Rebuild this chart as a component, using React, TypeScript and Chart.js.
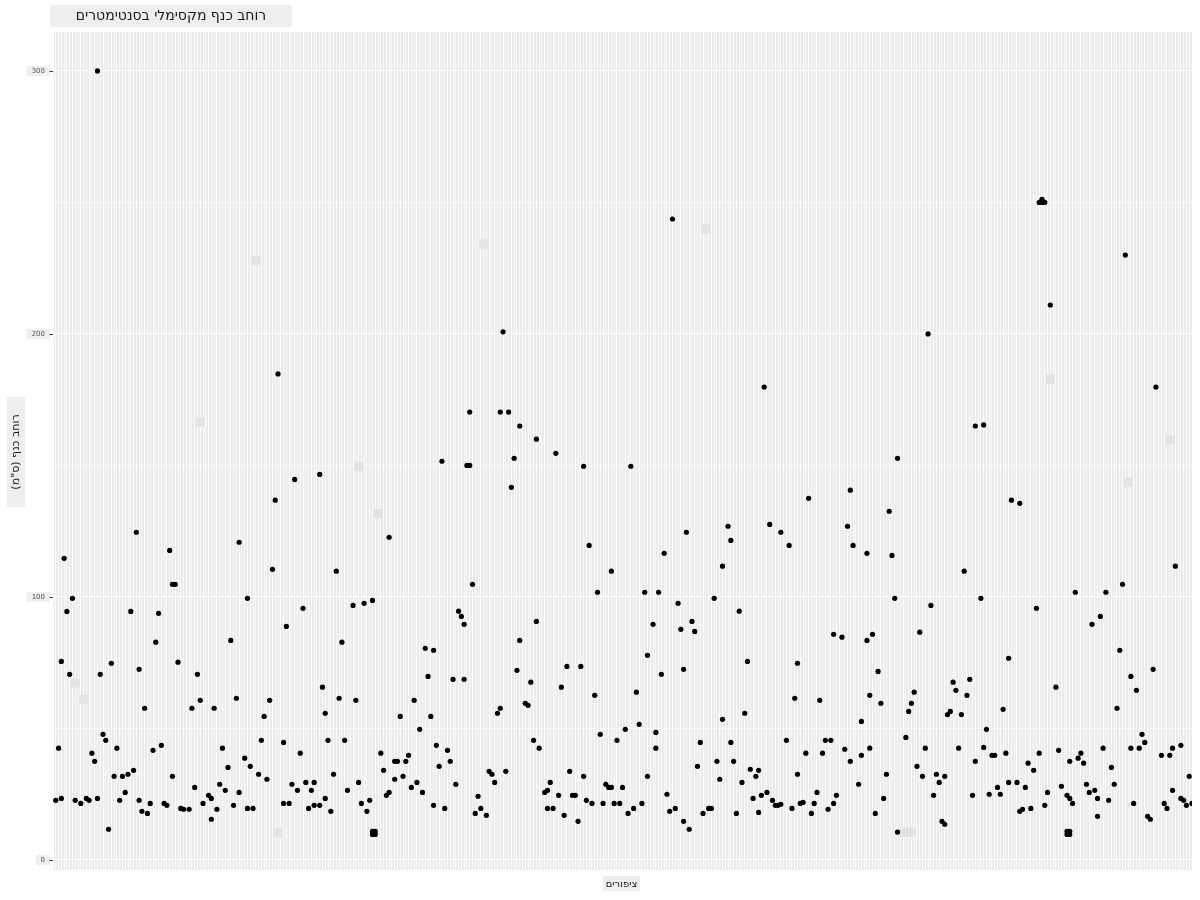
import { useEffect, useRef } from "react";
import { Chart, registerables } from "chart.js";

Chart.register(...registerables);

// ---- Data (bird index on the discrete x axis, max wingspan in cm) ----
const birdIndex = [
  1, 2, 3, 3, 4, 5, 6, 7, 8, 10,
  12, 13, 14, 15, 16, 16, 17, 18, 19, 20,
  21, 22, 23, 24, 25, 26, 27, 28, 29, 30,
  31, 31, 32, 33, 34, 35, 36, 37, 38, 39,
  40, 41, 42, 43, 43, 44, 45, 46, 47, 49,
  50, 51, 52, 53, 54, 56, 57, 57, 58, 59,
  60, 61, 62, 63, 64, 65, 66, 67, 67, 69,
  70, 70, 71, 72, 74, 75, 76, 77, 78, 79,
  80, 81, 83, 83, 84, 85, 86, 87, 88, 89,
  90, 91, 92, 93, 94, 94, 96, 97, 98, 98,
  99, 100, 101, 102, 103, 104,
  96, 105, 106, 108, 109, 110, 111, 112, 113, 114,
  115, 115, 116, 115, 116, 118, 119, 120, 121, 121,
  123, 124, 123, 125, 126, 127, 128, 129, 130, 131,
  132, 133, 134, 135, 136, 137, 137, 138, 139, 140,
  141, 142, 143, 144, 145, 146, 147, 148, 148, 149,
  150, 150, 151, 152, 153, 154, 156, 157, 158, 159,
  160, 161, 161, 162, 163, 164, 165, 166, 167, 168,
  168, 170, 171, 172, 173, 174, 174, 175, 177, 178,
  178, 179, 180, 181, 182, 183, 184, 185, 186, 187,
  188, 189, 190, 191, 191, 192, 193, 194, 195, 196,
  197, 198, 199, 200, 201, 201, 202, 203, 204, 205,
  206,
  207, 208, 209, 210, 211, 212, 213, 214, 214, 216,
  217, 217, 218, 219, 220, 221, 222, 223, 224, 225,
  226, 227, 227, 228, 229, 230, 231, 232, 233, 234,
  236, 237, 238, 239, 240, 241, 241, 243, 244, 244,
  245, 246, 247, 248, 249, 250, 251, 252, 253, 254,
  254, 255, 256, 257, 258, 259, 260, 261, 262, 262,
  264, 265, 266, 267, 268, 268, 269, 270, 271, 272,
  273, 274, 275, 276, 277, 278, 279, 280, 281, 281,
  282, 284, 285, 286, 287, 287, 288, 290, 291, 291,
  293, 293, 294, 294, 295, 296, 297, 298, 299, 300,
  301, 302, 303, 304, 304, 307,
  308, 309, 310, 311, 312, 313, 314, 315, 316, 317,
  318, 319, 320, 321, 321, 322, 323, 324, 325, 326,
  327, 328, 329, 330, 331, 332, 332, 334, 335, 335,
  336, 337, 338, 339, 340, 341, 342, 343, 344, 344,
  345, 347, 348, 348, 349, 350, 351, 352, 353, 354,
  355, 355, 356, 357, 356, 357, 358, 359, 361, 362,
  363, 365, 365, 366, 365, 366, 366, 366, 367, 368,
  369, 370, 371, 372, 373, 374, 375, 376, 376, 377,
  378, 379, 380, 381, 382, 383, 384, 385, 386, 388,
  388, 389, 390, 391, 392, 393, 394, 395, 396, 397,
  399, 400, 401, 402, 403, 403, 404, 406, 406, 407,
  408, 409, 410,
];

const maxWingspan = [
  22.7, 42.5, 75.5, 23.4, 114.7, 94.5, 70.6, 99.5, 22.7, 21.5,
  23.4, 22.7, 40.6, 37.5, 23.4, 300, 70.6, 47.8, 45.5, 11.7,
  74.8, 31.8, 42.5, 22.7, 31.8, 25.7, 32.6, 94.5, 34.1, 124.6,
  72.5, 22.7, 18.5, 57.7, 17.7, 21.5, 41.7, 82.8, 93.8, 43.6,
  21.5, 20.8, 117.7, 31.8, 104.8, 104.8, 75.2, 19.6, 19.3, 19.3,
  57.7, 27.6, 70.6, 60.7, 21.5, 24.6, 23.4, 15.5, 57.7, 19.3,
  28.8, 42.5, 26.5, 35.2, 83.5, 20.8, 61.5, 120.8, 25.7, 38.7,
  99.5, 19.6, 35.6, 19.6, 32.6, 45.5, 54.6, 30.7, 60.7, 110.5,
  136.8, 184.8, 44.7, 21.5, 88.8, 21.5, 28.8, 144.7, 26.5, 40.6,
  95.7, 29.5, 19.6, 26.5, 29.5, 20.8, 20.8, 65.7, 55.8, 23.4,
  45.5, 18.5, 32.6, 109.8, 61.5, 82.8,
  146.6, 45.5, 26.5, 96.8, 60.7, 29.5, 21.5, 97.6, 18.5, 22.7,
  98.7, 9.7, 9.7, 10.9, 10.9, 40.6, 34.1, 24.6, 122.7, 25.7,
  37.5, 37.5, 30.7, 54.6, 31.8, 37.5, 39.8, 27.6, 60.7, 29.5,
  49.7, 25.7, 80.5, 69.8, 54.6, 79.7, 20.8, 43.6, 35.6, 151.6,
  19.6, 41.7, 37.5, 68.7, 28.8, 94.6, 92.6, 89.6, 68.7, 150,
  150, 170.3, 104.8, 17.7, 24.2, 19.6, 17.0, 33.7, 32.6, 29.5,
  55.8, 57.7, 170.3, 200.8, 33.7, 170.3, 141.7, 152.7, 72.1, 83.5,
  165, 59.6, 58.8, 67.6, 45.5, 90.7, 160, 42.5, 25.7, 26.5,
  19.6, 29.5, 19.6, 154.6, 24.6, 65.7, 17.0, 73.6, 33.7, 24.6,
  24.6, 14.7, 73.6, 149.7, 31.8, 22.7, 119.6, 21.5, 62.6, 101.8,
  47.8, 21.5, 28.8, 27.6, 27.6, 109.8, 21.5, 45.5, 21.5, 27.6,
  49.7,
  17.7, 149.7, 19.6, 63.8, 51.6, 21.5, 101.8, 77.8, 31.8, 89.6,
  48.5, 42.5, 101.8, 70.6, 116.6, 25.0, 18.5, 243.7, 19.6, 97.6,
  87.7, 72.5, 14.7, 124.6, 11.7, 90.7, 86.9, 35.6, 44.7, 17.7,
  19.6, 19.6, 99.5, 37.5, 30.7, 111.7, 53.5, 126.9, 121.5, 44.7,
  37.5, 17.7, 94.6, 29.5, 55.8, 75.5, 34.5, 23.4, 31.8, 34.1,
  18.1, 24.6, 179.8, 25.7, 127.6, 22.7, 20.8, 20.8, 124.6, 21.2,
  45.5, 119.6, 19.6, 61.5, 74.8, 32.6, 21.5, 21.9, 40.6, 137.5,
  17.7, 21.5, 25.7, 60.7, 40.6, 45.5, 19.3, 45.5, 85.8, 21.5,
  24.6, 84.7, 42.1, 126.9, 140.6, 37.5, 119.6, 28.8, 52.7, 39.8,
  83.5, 116.6, 62.6, 42.5, 85.8, 17.7, 71.7, 59.6, 23.4, 32.6,
  132.6, 115.8, 99.5, 152.7, 10.6, 46.6,
  56.5, 59.6, 63.8, 35.6, 86.6, 31.8, 42.5, 200, 96.8, 24.6,
  32.6, 29.5, 14.7, 31.8, 13.6, 55.3, 56.5, 67.6, 64.5, 42.5,
  55.3, 109.8, 62.6, 68.7, 24.6, 37.5, 165, 99.5, 42.8, 165.4,
  49.7, 25.0, 39.8, 39.8, 27.6, 25.0, 57.3, 40.6, 76.7, 29.5,
  136.8, 29.5, 135.6, 18.5, 19.3, 27.6, 36.8, 19.6, 34.1, 95.7,
  40.6, 250, 250, 250, 251.2, 20.8, 25.7, 211, 65.7, 41.7,
  28.0, 24.6, 9.7, 9.7, 10.9, 10.9, 37.5, 23.4, 21.5, 101.8,
  38.7, 40.6, 36.8, 28.8, 25.7, 89.6, 26.5, 23.4, 16.6, 92.6,
  42.5, 101.8, 22.7, 35.2, 28.8, 57.7, 79.7, 104.8, 230, 69.8,
  42.5, 21.5, 64.5, 42.5, 47.8, 44.7, 16.6, 15.5, 72.5, 179.8,
  39.8, 21.5, 19.6, 39.8, 42.5, 26.5, 111.7, 43.6, 23.4, 22.7,
  20.8, 31.8, 21.5,
];

// light grey label boxes (text labels that render as blank boxes)
const labelIndex = [8, 11, 53, 73, 81, 110, 117, 155, 235, 306, 309, 359, 387, 402];
const labelWingspan = [67.3, 61.1, 166.5, 228, 10.4, 149.7, 131.7, 234.2, 239.9, 10.6, 10.6, 182.9, 143.5, 159.7];

const birdCount = 410;
const yTickValues = [0, 100, 200, 300];

const chartTitle = "רוחב כנף מקסימלי בסנטימטרים";
const yAxisTitle = 'רוחב כנף (ס"מ)';
const xAxisTitle = "ציפורים";

const FONT = "'DejaVu Sans', sans-serif";

const decorPlugin = {
  id: "decor",
  beforeDraw(chart: any) {
    const { ctx, chartArea: a } = chart;
    ctx.save();
    ctx.fillStyle = "#EBEBEB";
    ctx.fillRect(a.left, a.top, a.right - a.left, a.bottom - a.top);
    ctx.restore();
  },
  afterDraw(chart: any) {
    const { ctx, chartArea: a } = chart;
    const yScale = chart.scales.y;
    ctx.save();

    // y tick labels with backdrops and tick marks
    ctx.font = `7px ${FONT}`;
    ctx.textBaseline = "middle";
    for (const v of yTickValues) {
      const py = yScale.getPixelForValue(v);
      const text = String(v);
      const w = ctx.measureText(text).width;
      const right = a.left - 3;
      ctx.fillStyle = "#EFEFEF";
      ctx.fillRect(right - w - 10, py - 5, w + 10, 10);
      ctx.fillStyle = "#555555";
      ctx.textAlign = "right";
      ctx.fillText(text, right - 5, py + 0.5);
      ctx.strokeStyle = "#333333";
      ctx.lineWidth = 1;
      ctx.beginPath();
      ctx.moveTo(a.left - 3.5, Math.round(py) + 0.5);
      ctx.lineTo(a.left, Math.round(py) + 0.5);
      ctx.stroke();
    }

    // chart title box
    ctx.fillStyle = "#EEEEEE";
    ctx.fillRect(50, 5, 242, 22);
    ctx.fillStyle = "#1A1A1A";
    ctx.font = `14px ${FONT}`;
    ctx.textAlign = "center";
    ctx.textBaseline = "middle";
    (ctx as any).direction = "rtl";
    ctx.fillText(chartTitle, 171, 16.5);

    // x axis title box
    ctx.fillStyle = "#EEEEEE";
    ctx.fillRect(603, 876, 37, 15);
    ctx.fillStyle = "#1A1A1A";
    ctx.font = `10px ${FONT}`;
    ctx.fillText(xAxisTitle, 621.5, 884);

    // y axis title box (rotated)
    ctx.fillStyle = "#EEEEEE";
    ctx.fillRect(7, 397, 18, 110);
    ctx.translate(16.5, 452);
    ctx.rotate(-Math.PI / 2);
    ctx.fillStyle = "#1A1A1A";
    ctx.font = `11px ${FONT}`;
    ctx.fillText(yAxisTitle, 0, 0);

    ctx.restore();
  },
};

export default function App() {
  const canvasRef = useRef<HTMLCanvasElement | null>(null);

  useEffect(() => {
    if (!canvasRef.current) return;
    const birds = birdIndex.map((x, i) => ({ x, y: maxWingspan[i] }));
    const labels = labelIndex.map((x, i) => ({ x, y: labelWingspan[i] }));

    const chart = new Chart(canvasRef.current, {
      type: "scatter",
      data: {
        datasets: [
          {
            data: labels,
            pointStyle: "rect",
            pointRadius: 6.5,
            backgroundColor: "#E3E3E3",
            borderWidth: 0,
            order: 2,
          },
          {
            data: birds,
            pointRadius: 2.6,
            backgroundColor: "#000000",
            borderWidth: 0,
            order: 1,
          },
        ],
      },
      options: {
        animation: false,
        responsive: true,
        maintainAspectRatio: false,
        events: [],
        layout: { padding: { left: 53, top: 32, right: 8, bottom: 30 } },
        plugins: {
          legend: { display: false },
          tooltip: { enabled: false },
          title: { display: false },
        },
        scales: {
          x: {
            type: "linear",
            min: 0,
            max: birdCount,
            afterFit: (s: any) => {
              s.height = 0;
            },
            border: { display: false },
            grid: { color: "#FFFFFF", lineWidth: 0.8, drawTicks: false },
            ticks: { display: false, stepSize: 1, includeBounds: false, autoSkip: false },
          },
          y: {
            type: "linear",
            min: -3.8,
            max: 314.8,
            afterFit: (s: any) => {
              s.width = 0;
            },
            border: { display: false },
            grid: {
              color: "#FFFFFF",
              lineWidth: (c: any) => (c.tick && c.tick.value % 100 === 0 ? 1.1 : 0.55),
              drawTicks: false,
            },
            ticks: { display: false, stepSize: 50, includeBounds: false },
          },
        },
      },
      plugins: [decorPlugin],
    });
    return () => chart.destroy();
  }, []);

  return (
    <div style={{ position: "absolute", left: 0, top: 0, width: 1200, height: 900, background: "#FFFFFF" }}>
      <canvas ref={canvasRef} />
    </div>
  );
}
